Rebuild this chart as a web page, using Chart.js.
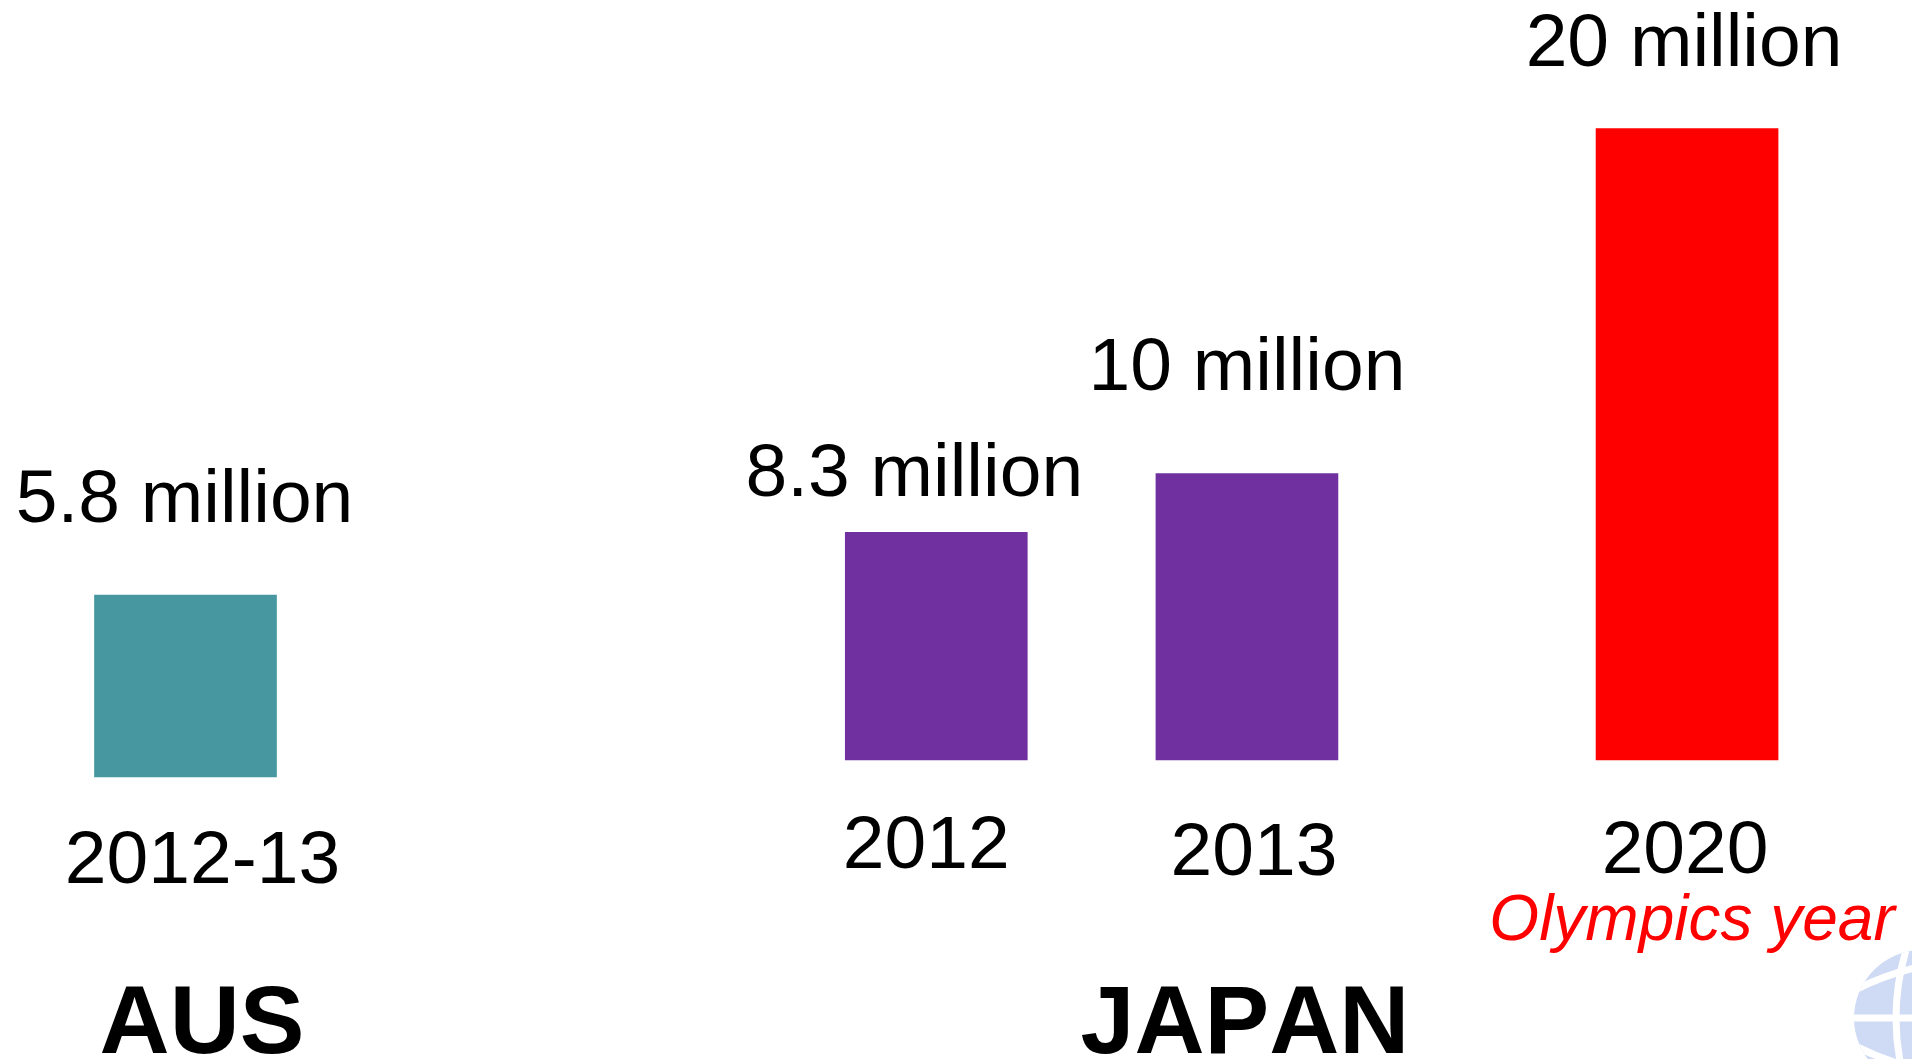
<!DOCTYPE html>
<html>
<head>
<meta charset="utf-8">
<title>Visitor numbers: Australia and Japan</title>
<script src="https://cdn.jsdelivr.net/npm/chart.js@4"></script>
<style>
  html, body { margin: 0; padding: 0; background: #ffffff; overflow: hidden; }
  #wrap { position: absolute; left: 0; top: 0; width: 1912px; height: 1059px; }
</style>
</head>
<body>
<div id="wrap"><canvas id="chart" width="1912" height="1059"></canvas></div>
<script>
// Values in millions, one list per country panel.
const ausYears = ['2012-13'];
const ausValues = [5.8];
const japanYears = ['2012', '2013', '2020'];
const japanValues = [8.3, 10, 20];
const panelTitles = ['AUS', 'JAPAN'];
const olympicsNote = 'Olympics year';

const TEAL = '#4697A0', PURPLE = '#7030A0', RED = '#FF0000';
const FONT = '"Liberation Sans", Arial, sans-serif';

// Empty category slots that keep the bars at their irregular spacing.
const gapSlots = [29, 12, 17];
const years = [...ausYears, ...japanYears];
const values = [...ausValues, ...japanValues];
const slotOf = [0];
gapSlots.forEach((g, i) => slotOf.push(slotOf[i] + g));
const slotCount = slotOf[slotOf.length - 1] + 1;

const categories = Array(slotCount).fill('');
years.forEach((y, i) => { categories[slotOf[i]] = y; });

const ausSeries = Array(slotCount).fill(null);
ausValues.forEach((v, i) => { ausSeries[slotOf[i]] = v; });
const japanSeries = Array(slotCount).fill(null);
japanValues.forEach((v, i) => { japanSeries[slotOf[ausValues.length + i]] = v; });

// Text placement: offset from the bar centre and text baseline.
const valueLabelLayout = [
  { dx: -1, y: 522 }, { dx: -22, y: 496 }, { dx: 0, y: 390 }, { dx: -3, y: 66 }
];
const yearLabelLayout = [
  { dx: 17, y: 883 }, { dx: -10, y: 868 }, { dx: 7, y: 875 }, { dx: -2, y: 873 }
];
const titleLayout = [
  { x: 202, y: 1053 }, { x: 1245, y: 1053 }
];

const textLabels = {
  id: 'textLabels',
  afterDatasetsDraw(chart) {
    const { ctx, scales: { x } } = chart;
    ctx.save();
    ctx.textAlign = 'center';
    ctx.textBaseline = 'alphabetic';
    ctx.fillStyle = '#000000';

    ctx.font = '75px ' + FONT;
    values.forEach((v, i) => {
      const cx = x.getPixelForValue(slotOf[i]);
      ctx.fillText(v + ' million', cx + valueLabelLayout[i].dx, valueLabelLayout[i].y);
    });
    years.forEach((y, i) => {
      const cx = x.getPixelForValue(slotOf[i]);
      ctx.fillText(y, cx + yearLabelLayout[i].dx, yearLabelLayout[i].y);
    });

    ctx.font = 'bold 97px ' + FONT;
    ctx.fontKerning = 'none';
    panelTitles.forEach((t, i) => ctx.fillText(t, titleLayout[i].x, titleLayout[i].y));
    ctx.fontKerning = 'auto';

    ctx.fillStyle = RED;
    ctx.font = 'italic 64px ' + FONT;
    ctx.fillText(olympicsNote, x.getPixelForValue(slotOf[3]) + 5, 940);
    ctx.restore();
  }
};

// Pale globe emblem cut off by the lower right corner.
const globeEmblem = {
  id: 'globeEmblem',
  afterDraw(chart) {
    const { ctx } = chart;
    ctx.save();
    ctx.beginPath();
    ctx.arc(1922, 1018, 68, 0, Math.PI * 2);
    ctx.clip();
    ctx.fillStyle = '#CFDBF5';
    ctx.fillRect(1840, 940, 72, 119);
    ctx.strokeStyle = '#FFFFFF';
    ctx.lineWidth = 7;
    ctx.beginPath();
    ctx.moveTo(1850, 1018);
    ctx.lineTo(1912, 1018);
    ctx.moveTo(1906, 950);
    ctx.quadraticCurveTo(1886, 1018, 1906, 1086);
    ctx.moveTo(1855, 990);
    ctx.quadraticCurveTo(1885, 975, 1915, 968);
    ctx.moveTo(1855, 1046);
    ctx.quadraticCurveTo(1885, 1061, 1915, 1068);
    ctx.stroke();
    ctx.restore();
  }
};

new Chart(document.getElementById('chart'), {
  type: 'bar',
  data: {
    labels: categories,
    datasets: [
      {
        label: 'Australia',
        data: ausSeries,
        yAxisID: 'yAus',
        backgroundColor: TEAL,
        clip: false
      },
      {
        label: 'Japan',
        data: japanSeries,
        yAxisID: 'yJapan',
        base: 1.7,
        backgroundColor: ctx => (ctx.raw === 20 ? RED : PURPLE),
        clip: false
      }
    ]
  },
  plugins: [textLabels, globeEmblem],
  options: {
    responsive: false,
    animation: false,
    events: [],
    grouped: false,
    barThickness: 182,
    layout: { padding: { left: 172.55, right: 212, top: 0, bottom: 282 } },
    plugins: { legend: { display: false }, tooltip: { enabled: false } },
    scales: {
      x: { display: false, grid: { display: false } },
      yAus: { display: false, position: 'left', min: 0, max: 24.76 },
      yJapan: { display: false, position: 'right', min: 1.207, max: 23.73 }
    }
  }
});
</script>
</body>
</html>
